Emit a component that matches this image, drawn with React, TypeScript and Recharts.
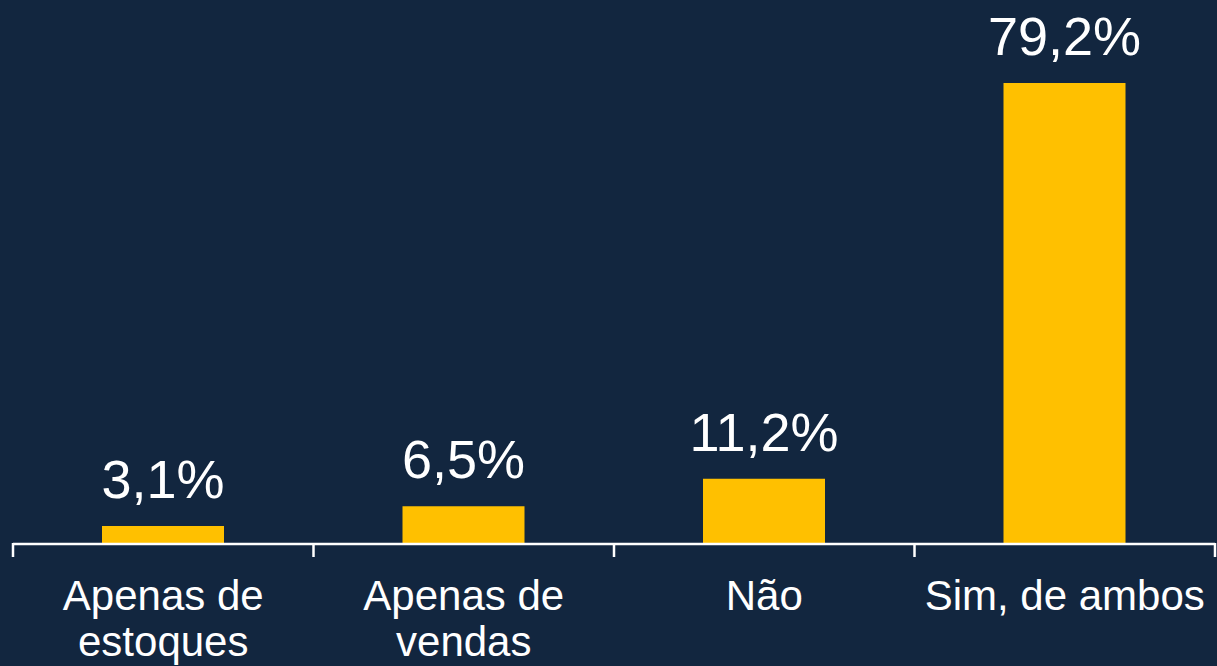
import { BarChart, Bar, XAxis, YAxis, LabelList } from 'recharts';

const categories = ['Apenas de estoques', 'Apenas de vendas', 'Não', 'Sim, de ambos'];
const categoryLines = [['Apenas de', 'estoques'], ['Apenas de', 'vendas'], ['Não'], ['Sim, de ambos']];
const values = [3.1, 6.5, 11.2, 79.2];

const data = categories.map((name, i) => ({ name, value: values[i], lines: categoryLines[i] }));

const W = 1217;
const H = 666;
const M = { top: 20, right: 2, bottom: 0, left: 13 };
const BAND = (W - M.left - M.right) / categories.length;
const FONT = '"Liberation Sans", Arial, sans-serif';

const fmt = (v: number) => v.toFixed(1).replace('.', ',') + '%';

function CategoryTick(props: any) {
  const { x, y, payload, index } = props;
  const lines = categoryLines[index] || [payload.value];
  const left = x - BAND / 2;
  const right = x + BAND / 2;
  return (
    <g>
      <line x1={left} x2={left} y1={y - 1} y2={y + 13} stroke="#fff" strokeWidth={2.5} />
      {index === categories.length - 1 && (
        <line x1={right} x2={right} y1={y - 1} y2={y + 13} stroke="#fff" strokeWidth={2.5} />
      )}
      <text x={x} y={y} textAnchor="middle" fill="#fff" fontSize={42} fontFamily={FONT}>
        {lines.map((l: string, i: number) => (
          <tspan key={i} x={x} dy={i === 0 ? 66 : 46}>
            {l}
          </tspan>
        ))}
      </text>
    </g>
  );
}

function ValueLabel(props: any) {
  const { x, y, width, value } = props;
  return (
    <text x={x + width / 2} y={y - 28} textAnchor="middle" fill="#fff" fontSize={54} fontFamily={FONT}>
      {fmt(value)}
    </text>
  );
}

export default function App() {
  return (
    <div style={{ position: 'fixed', top: 0, left: 0, width: W, height: H, background: '#12263f' }}>
      <BarChart width={W} height={H} data={data} margin={M} barCategoryGap={0}>
        <XAxis
          dataKey="name"
          axisLine={{ stroke: '#fff', strokeWidth: 2.5 }}
          tickLine={false}
          tickSize={0}
          tickMargin={0}
          tick={<CategoryTick />}
          interval={0}
          height={H - 544}
        />
        <YAxis hide domain={[0, 90]} />
        <Bar dataKey="value" fill="#ffc000" barSize={122} isAnimationActive={false}>
          <LabelList dataKey="value" content={<ValueLabel />} />
        </Bar>
      </BarChart>
    </div>
  );
}
